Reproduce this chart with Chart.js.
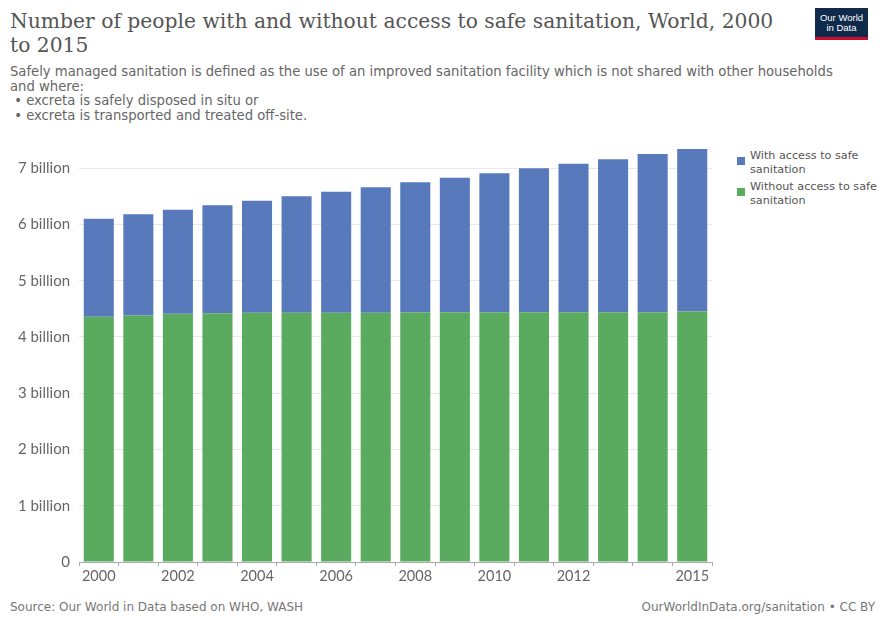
<!DOCTYPE html>
<html>
<head>
<meta charset="utf-8">
<script src="https://cdn.jsdelivr.net/npm/chart.js@4/dist/chart.umd.min.js"></script>
<style>
  body { margin: 0; background: #fff; width: 880px; height: 619px; position: relative; overflow: hidden; font-family: "DejaVu Sans", sans-serif; }
  #title { position: absolute; left: 10px; top: 9px; width: 800px; font-family: "DejaVu Serif", serif; font-size: 20.3px; line-height: 24px; color: #555; }
  #sub { position: absolute; left: 10px; top: 65px; font-size: 13.2px; line-height: 14.6px; color: #666; white-space: nowrap; }
  #logo { position: absolute; left: 815px; top: 8px; width: 53px; height: 32px; background: #102a4c; border-bottom: 3px solid #c8102e; color: #fff; font-family: "Liberation Sans", sans-serif; font-size: 9.5px; line-height: 10px; text-align: center; padding-top: 5px; box-sizing: border-box; }
  #legend { position: absolute; left: 737px; top: 149px; font-size: 11.2px; line-height: 14px; color: #555; white-space: nowrap; }
  .item { position: relative; padding-left: 13px; margin-bottom: 3px; }
  .sw { position: absolute; left: 0; top: 8px; width: 8px; height: 8px; }
  #chartBox { position: absolute; left: 0; top: 122px; width: 720px; height: 478px; }
  #src { position: absolute; left: 10px; top: 600px; font-size: 12px; color: #777; }
  #lic { position: absolute; right: 5px; top: 600px; font-size: 12px; color: #777; }
</style>
</head>
<body>
<div id="title">Number of people with and without access to safe sanitation, World, 2000<br>to 2015</div>
<div id="sub">Safely managed sanitation is defined as the use of an improved sanitation facility which is not shared with other households<br>and where:<br>&nbsp;• excreta is safely disposed in situ or<br>&nbsp;• excreta is transported and treated off-site.</div>
<div id="logo">Our World<br>in Data</div>
<div id="legend"></div>
<div id="chartBox"><canvas id="chart"></canvas></div>
<div id="src">Source: Our World in Data based on WHO, WASH</div>
<div id="lic">OurWorldInData.org/sanitation • CC BY</div>
<script>
// data (billions of people)
const years = ["2000","2001","2002","2003","2004","2005","2006","2007","2008","2009","2010","2011","2012","2013","2014","2015"];
const tickLabels = ["2000","2002","2004","2006","2008","2010","2012","2015"];
const withoutAccess = [4.36, 4.38, 4.41, 4.42, 4.43, 4.43, 4.43, 4.43, 4.44, 4.44, 4.44, 4.44, 4.44, 4.44, 4.44, 4.45];
const total = [6.10, 6.18, 6.26, 6.34, 6.42, 6.50, 6.58, 6.66, 6.75, 6.83, 6.91, 7.00, 7.08, 7.16, 7.25, 7.34];
const withAccess = total.map((t, i) => +(t - withoutAccess[i]).toFixed(2));

const blue = "#587abd";
const green = "#5aab5f";

// legend
const series = [
  { name: "With access to safe<br>sanitation", color: blue },
  { name: "Without access to safe<br>sanitation", color: green }
];
series.forEach(s => {
  const d = document.createElement("div");
  d.className = "item";
  d.innerHTML = '<span class="sw" style="background:' + s.color + '"></span>' + s.name;
  document.getElementById("legend").appendChild(d);
});

const ctx = document.getElementById("chart");

new Chart(ctx, {
  type: "bar",
  data: {
    labels: years,
    datasets: [
      { label: "Without access to safe sanitation", data: withoutAccess.map(v => v * 1e9), backgroundColor: green, categoryPercentage: 1, barPercentage: 0.76 },
      { label: "With access to safe sanitation", data: withAccess.map(v => v * 1e9), backgroundColor: blue, categoryPercentage: 1, barPercentage: 0.76 }
    ]
  },
  options: {
    responsive: true,
    maintainAspectRatio: false,
    animation: false,
    layout: { padding: { left: 0, right: 8, top: 4, bottom: 0 } },
    plugins: { legend: { display: false }, tooltip: { enabled: false } },
    scales: {
      x: {
        stacked: true,
        grid: { display: true, drawOnChartArea: false, drawTicks: true, tickLength: 4, color: "#aaa" },
        border: { color: "#aaa" },
        ticks: {
          autoSkip: false, maxRotation: 0, padding: 2,
          color: "#666", font: { family: "Lato", size: 14.5 },
          callback: (v, i) => tickLabels.includes(years[i]) ? years[i] : ""
        },
        afterFit: s => { s.height = 38; }
      },
      y: {
        stacked: true,
        min: 0, max: 7.5e9,
        border: { display: false },
        grid: { color: "#e8e8e8", drawTicks: false },
        afterBuildTicks: s => {
          s.ticks = [0, 1, 2, 3, 4, 5, 6, 7].map(b => ({ value: b * 1e9 }));
        },
        ticks: {
          padding: 9,
          color: "#666", font: { family: "Lato", size: 15 },
          callback: v => v === 0 ? "0" : Math.round(v / 1e9) + " billion"
        },
        afterFit: s => { s.width = 79; }
      }
    }
  }
});
</script>
</body>
</html>
